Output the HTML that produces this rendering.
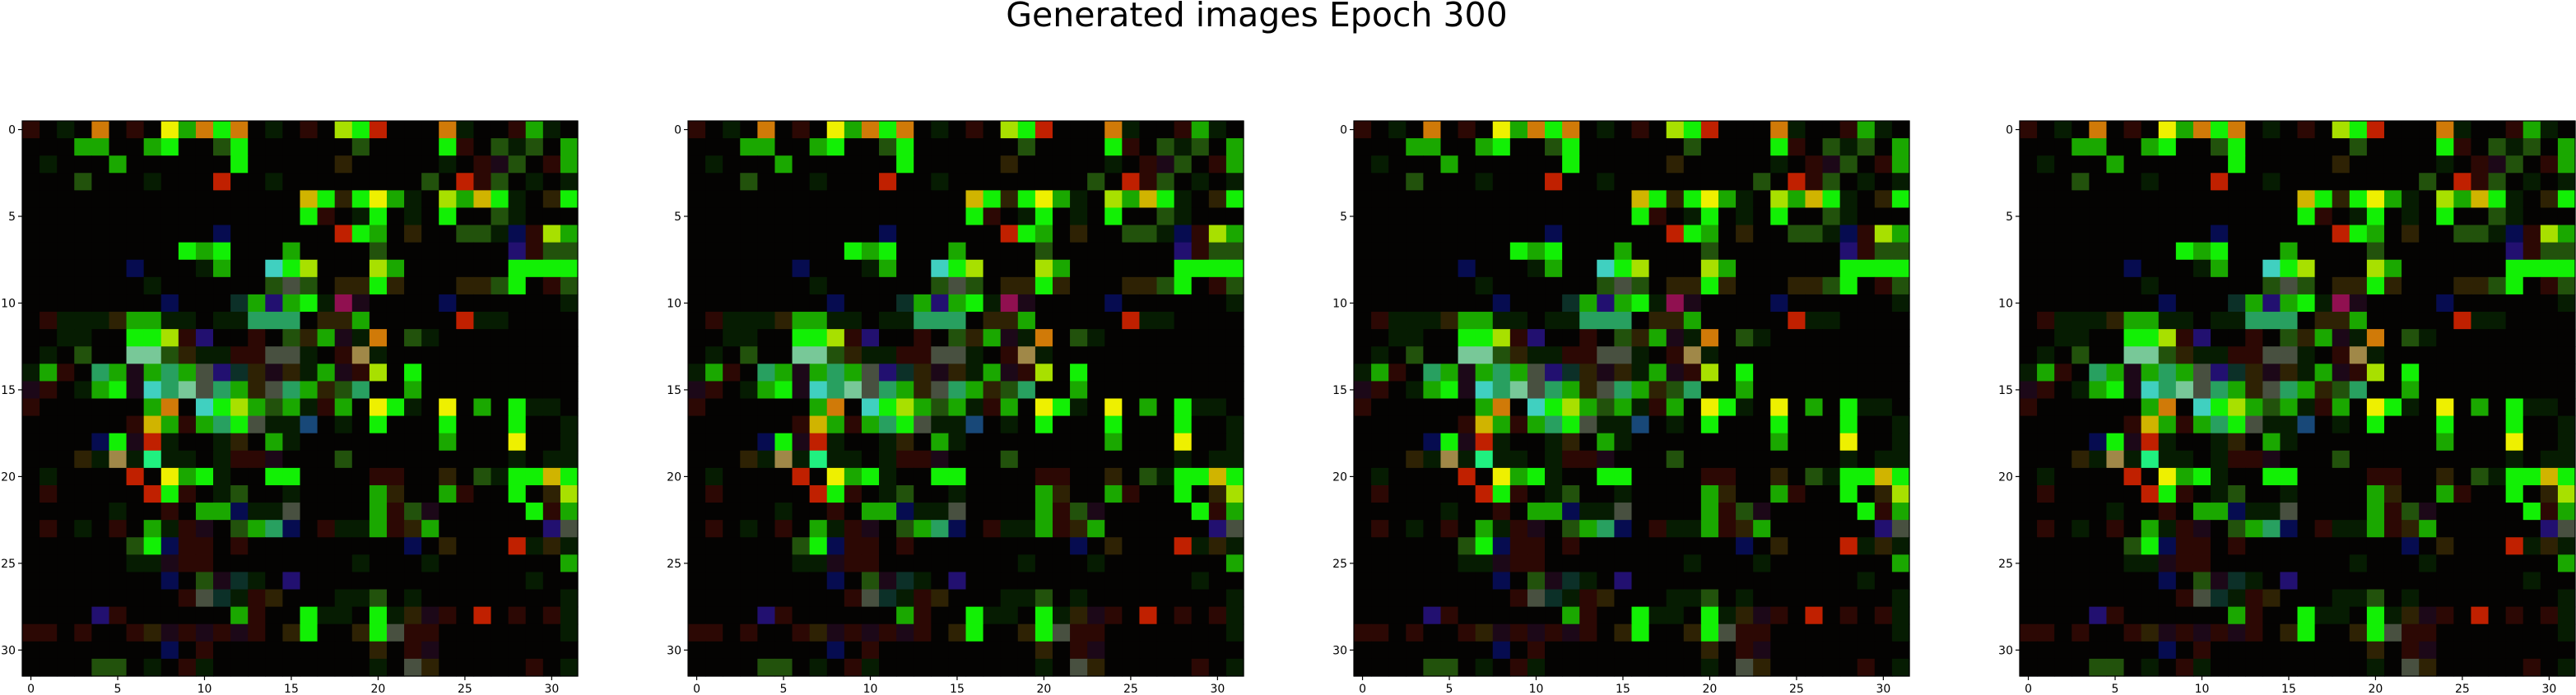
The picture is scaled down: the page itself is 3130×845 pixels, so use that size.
<!DOCTYPE html>
<html><head><meta charset="utf-8">
<style>
html,body{margin:0;padding:0;background:#fff;}
#wrap{position:relative;width:3130px;height:845px;overflow:hidden;background:#fff;}
svg text{font-family:"DejaVu Sans","Liberation Sans",sans-serif;}
</style></head>
<body>
<div id="wrap">
<svg id="fig" width="3130" height="845" viewBox="0 0 3130 845">
<text x="1527" y="32" font-size="41" text-anchor="middle" fill="#000">Generated images Epoch 300</text>
</svg>
</div>
<script>
const panelNames = ["image-1","image-2","image-3","image-4"];
const tickValues = [0,5,10,15,20,25,30];
const tickLabels = ["0","5","10","15","20","25","30"];
const palette = {
 ".":"#040302","d":"#061c02","k":"#22520c","g":"#1aa800","G":"#12f005",
 "y":"#eef000","Y":"#a8e000","u":"#d0b400","o":"#d07a08","r":"#c02000",
 "R":"#2c0804","n":"#2e2204","e":"#a08848","b":"#060c50","v":"#221070",
 "p":"#1c0818","q":"#0c3028","t":"#28a060","T":"#20f080","c":"#40d0c0",
 "l":"#78c898","m":"#485040","M":"#901050","w":"#184878"
};
const rows = [
"R.d.o.R.ygoGo.d.R.YGr...od..Rgd.",
"...gg..gG..kG......k....GR.kdk.g",
".d...g......G.....n.....d.Rpk.Rg",
"...k...d...r..d........k.rRk.d.d",
"................uGnGygd.YguGd.nG",
"................GR.dG.d.G..kd...",
"...........b......rGg.n..kkdbRYg",
".........GgG...g....k.......vRkk",
"......b...dg..cGY...Yg......GGGG",
".......d......kmk.nnGn...nnkG.Rk",
"........b...qgvgGdMp....b......d",
".Rdddnggdd.ddttt.nng.....rdd....",
"..dd..GGYRv..R.kngpdo.kd........",
".d.k..llknddRRmmd.Red...........",
"dgR.tgpgtgmvqnpndgpRY.G.........",
"pR.dgGpctlmtgnmtgnkt..g.........",
"R......go.cGYgkgdRg.yGd.y.g.Gdd.",
"......RugRgtGmddw.d.G...G...G..d",
"....bGprd..dn.gd........g...y..d",
"...ndedTdd.dRRp...k.........d.dd",
".d....r.ygGd..GG....RR..n.kdGGuG",
".R.....rGR.dk..d....gn..gR..G.nY",
".....d..R.ggbddm....gRkp.....GRg",
".R.d.R.gdRp.kgtb.RddgRng......vm",
"......kGbRR.R.........b.n...rdnd",
"......ddpRR........d...d.......g",
"........b.kpqd.v.............d..",
".........RmqdRn...ddk.d........d",
"....vR......gR..Gdd.GdnpR.r.R.Rd",
"RR.R..RnpRpRpR.nG..nGmRR.......d",
"........b.R.........n.Rp........",
"....kk.d.Rd.........d.mn.....R.d"
];
const NS="http://www.w3.org/2000/svg";
const svg=document.getElementById('fig');
const panelLeft=[27,836,1645,2454];
const top0=147, size=675, n=32, cell=size/n;
function sx(i,L){return L+(i+0.5)*cell;}
function sy(j){return top0+(j+0.5)*cell;}
function mk(tag,attrs){const e=document.createElementNS(NS,tag);for(const k in attrs)e.setAttribute(k,attrs[k]);return e;}
panelNames.forEach((name,pi)=>{
  const L=panelLeft[pi];
  const g=mk('g',{});
  
  
  svg.appendChild(g);
  rows.forEach((row,j)=>{
    for(let i=0;i<n;i++){
      const r=mk('rect',{x:(sx(i,L)-cell/2).toFixed(2),y:(sy(j)-cell/2).toFixed(2),width:(cell+0.6).toFixed(2),height:(cell+0.6).toFixed(2),fill:palette[row[i]]||"#040302"});
      
      
      g.appendChild(r);
    }
  });
  const fr=mk('rect',{x:L,y:top0,width:size,height:size,fill:'none',stroke:'#000','stroke-width':1.2});
  
  
  g.appendChild(fr);
  tickValues.forEach((v,k)=>{
    const x=sx(v,L);
    const tx=mk('line',{x1:x,y1:top0+size,x2:x,y2:top0+size+5,stroke:'#000','stroke-width':1.2});
    
    
    g.appendChild(tx);
    const lx=mk('text',{x:x,y:top0+size+20,'font-size':14,'text-anchor':'middle',fill:'#000'});
    lx.textContent=tickLabels[k];
    
    
    g.appendChild(lx);
    const y=sy(v);
    const ty=mk('line',{x1:L-5,y1:y,x2:L,y2:y,stroke:'#000','stroke-width':1.2});
    
    
    g.appendChild(ty);
    const ly=mk('text',{x:L-8,y:y+5,'font-size':14,'text-anchor':'end',fill:'#000'});
    ly.textContent=tickLabels[k];
    
    
    g.appendChild(ly);
  });
});
</script>
</body></html>
